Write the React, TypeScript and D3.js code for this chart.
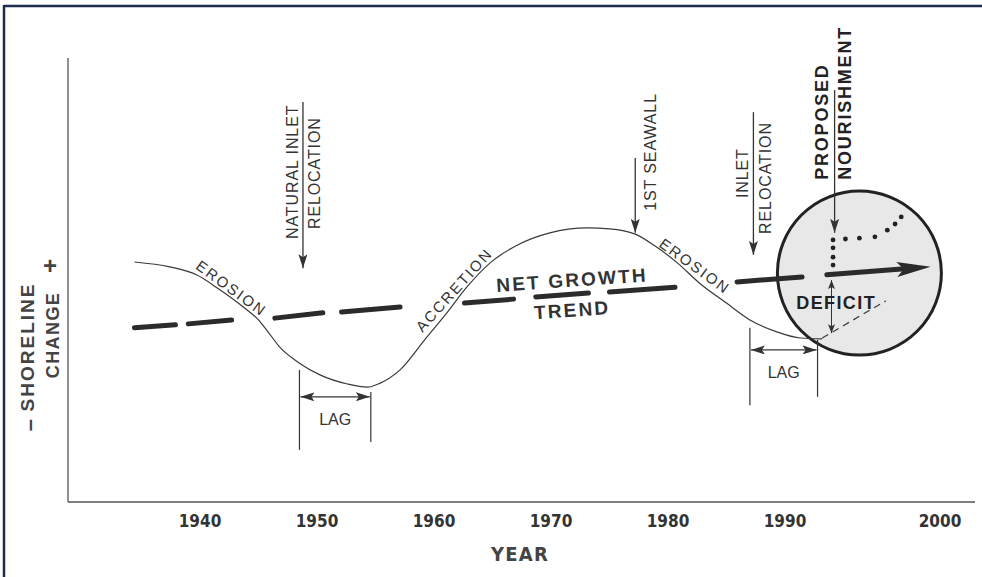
import React from 'react';
import * as d3 from 'd3';

// ---- data (years on x, relative shoreline change on y) ----
const tickYears = [1940, 1950, 1960, 1970, 1980, 1990, 2000];

// measured shoreline position
const shoreYears = [1934.4, 1937.4, 1939.7, 1941.7, 1943.7, 1945.0, 1945.7, 1946.8, 1948.5, 1950.3, 1952.6, 1954.3, 1955.4, 1957.1, 1959.2, 1961.1, 1962.8, 1964.8, 1967.1, 1969.9, 1973.1, 1975.0, 1977.2, 1978.9, 1980.8, 1982.7, 1985.0, 1987.0, 1989.3, 1991.0, 1992.4];
const shoreChange = [4.3, 3.2, 1.4, -2.0, -5.9, -8.8, -11.1, -14.9, -18.6, -21.3, -23.3, -24.0, -23.1, -20.1, -13.3, -7.2, -1.4, 4.1, 8.1, 10.9, 12.0, 11.8, 10.6, 7.9, 4.1, -0.5, -5.0, -8.8, -11.5, -12.9, -13.1];

// net growth trend, drawn as broken segments [year0, change0, year1, change1]
const trendDashes = [
  [1934.4, -10.6, 1937.9, -9.9],
  [1939.0, -9.7, 1942.7, -8.8],
  [1946.4, -8.4, 1950.5, -7.2],
  [1952.1, -7.0, 1957.1, -5.9],
  [1962.6, -5.0, 1966.8, -4.1],
  [1968.7, -3.6, 1973.2, -2.7],
  [1975.0, -2.5, 1980.6, -1.4],
  [1985.9, -0.2, 1991.1, 0.9],
];
const trendArrow = [1992.7, 1.4, 1999.4, 3.2];

// projected shoreline without nourishment
const projYears = [1992.4, 1996.5];
const projChange = [-12.9, -4.5];

// proposed nourishment path (dotted)
const nourishYears = [1993.1, 1993.1, 1993.1, 1993.1, 1993.9, 1994.8, 1995.8, 1996.6, 1997.1, 1997.5];
const nourishChange = [3.6, 5.4, 7.5, 9.3, 9.5, 9.7, 10.0, 11.5, 12.9, 14.5];

// event arrows
const eventYears = [1948.8, 1977.2, 1987.3, 1993.2];
const eventTop = [40.5, 27.8, 38.2, 43.2];
const eventTip = [2.9, 10.9, 5.9, 10.9];

const eventLabels = [
  { text: 'NATURAL INLET', year: 1947.9, value: 24.7, anchor: 'middle', bold: false },
  { text: 'RELOCATION', year: 1949.8, value: 24.4, anchor: 'middle', bold: false },
  { text: '1ST SEAWALL', year: 1978.5, value: 29.2, anchor: 'middle', bold: false },
  { text: 'INLET', year: 1986.4, value: 24.4, anchor: 'middle', bold: false },
  { text: 'RELOCATION', year: 1988.3, value: 23.3, anchor: 'middle', bold: false },
  { text: 'PROPOSED', year: 1992.4, value: 22.9, anchor: 'start', bold: true },
  { text: 'NOURISHMENT', year: 1993.9, value: 22.9, anchor: 'start', bold: true },
];

const curveLabels = [
  { text: 'EROSION', year: 1942.7, value: -1.6, angle: 36 },
  { text: 'ACCRETION', year: 1961.7, value: -2.0, angle: -48 },
  { text: 'EROSION', year: 1982.3, value: 3.4, angle: 36 },
];
const trendLabels = [
  { text: 'NET GROWTH', year: 1971.8, value: 0.2 },
  { text: 'TREND', year: 1971.8, value: -6.6 },
];

// lag brackets
const lagFrom = [1948.5, 1987.0];
const lagTo = [1954.6, 1992.1];
const lagLeftSpan = [[-20.1, -38.2], [-10.6, -28.1]];
const lagRightSpan = [[-25.1, -36.4], [-13.3, -26.2]];
const lagArrowAt = [-26.2, -15.6];
const lagLabelAt = [-31.4, -20.8];

const deficitYear = 1993.0;
const deficitSpan = [0.2, -11.8];
const focusCenter = [1994.8, 1.8];

const INK = '#333';
const sans = "'Liberation Sans', Arial, sans-serif";
const cond = "'DejaVu Sans Condensed', 'DejaVu Sans', sans-serif";

export default function App() {
  const width = 982;
  const height = 577;
  const axisLeft = 68, axisRight = 975, axisTop = 58, axisBottom = 502;

  const x = d3.scaleLinear().domain([1940, 1990, 2000]).range([200, 785, 940]);
  const y = d3.scaleLinear().domain([-50, 50]).range([axisBottom, 60]);

  const shoreLine = d3.line<number>()
    .x(i => x(shoreYears[i]))
    .y(i => y(shoreChange[i]))
    .curve(d3.curveMonotoneX);
  const shorePath = shoreLine(shoreYears.map((_, i) => i)) || '';

  // big trend arrow
  const [ay0, av0, ay1, av1] = trendArrow;
  const p0 = [x(ay0), y(av0)];
  const p1 = [x(ay1), y(av1)];
  const ang = Math.atan2(p1[1] - p0[1], p1[0] - p0[0]);
  const ux = Math.cos(ang), uy = Math.sin(ang);
  const headLen = 34, headW = 7.5;
  const bx = p1[0] - ux * headLen, by = p1[1] - uy * headLen;
  const head = [
    [p1[0], p1[1]],
    [bx - uy * headW, by + ux * headW],
    [p1[0] - ux * (headLen - 7), p1[1] - uy * (headLen - 7)],
    [bx + uy * headW, by - ux * headW],
  ];

  const [cx, cy] = [x(focusCenter[0]), y(focusCenter[1])];

  return (
    <svg width={width} height={height} style={{ position: 'absolute', left: 0, top: 0, background: '#fff' }}>
      <defs>
        <marker id="ah" viewBox="0 0 14 9" refX="14" refY="4.5" markerWidth="14" markerHeight="9"
          orient="auto-start-reverse" markerUnits="userSpaceOnUse">
          <path d="M0,0 L14,4.5 L0,9 L3,4.5 z" fill={INK} />
        </marker>
        <marker id="ahs" viewBox="0 0 9 7" refX="9" refY="3.5" markerWidth="9" markerHeight="7"
          orient="auto-start-reverse" markerUnits="userSpaceOnUse">
          <path d="M0,0 L9,3.5 L0,7 L2,3.5 z" fill={INK} />
        </marker>
      </defs>

      {/* frame */}
      <line x1={4} y1={6} x2={width} y2={6} stroke="#1e2d4d" strokeWidth={2.5} />
      <line x1={4} y1={5} x2={4} y2={height} stroke="#1e2d4d" strokeWidth={2.5} />

      {/* axes */}
      <line x1={axisLeft} y1={axisTop} x2={axisLeft} y2={axisBottom} stroke="#555" strokeWidth={1.3} />
      <line x1={axisLeft} y1={axisBottom} x2={axisRight} y2={axisBottom} stroke="#555" strokeWidth={1.3} />
      {tickYears.map(t => (
        <text key={t} x={x(t)} y={527} textAnchor="middle" fontFamily={cond} fontWeight="bold"
          fontSize={17} fill={INK}>{t}</text>
      ))}
      <text x={520} y={561} textAnchor="middle" fontFamily={cond} fontWeight="bold" fontSize={20}
        letterSpacing={1.2} fill="#444">YEAR</text>

      {/* y label */}
      <text transform="translate(27,347) rotate(-90)" textAnchor="middle" dominantBaseline="central"
        fontFamily={sans} fontWeight="bold" fontSize={19} letterSpacing={2} fill="#444">SHORELINE</text>
      <text transform="translate(53,335) rotate(-90)" textAnchor="middle" dominantBaseline="central"
        fontFamily={sans} fontWeight="bold" fontSize={18} letterSpacing={1.4} fill="#444">CHANGE</text>
      <text x={50} y={265} textAnchor="middle" dominantBaseline="central" fontFamily={sans}
        fontWeight="bold" fontSize={24} fill="#444">+</text>
      <text transform="translate(29,425) rotate(-90)" textAnchor="middle" dominantBaseline="central"
        fontFamily={sans} fontWeight="bold" fontSize={22} fill="#444">–</text>

      {/* focus circle */}
      <circle cx={cx} cy={cy} r={82} fill="#e8e8e8" stroke="#222" strokeWidth={3} />

      {/* shoreline */}
      <path d={shorePath} fill="none" stroke="#3a3a3a" strokeWidth={1.2} />
      <line x1={x(projYears[0])} y1={y(projChange[0])} x2={x(projYears[1])} y2={y(projChange[1])}
        stroke="#3a3a3a" strokeWidth={1.2} strokeDasharray="7 5" />

      {/* trend */}
      {trendDashes.map((d, i) => (
        <line key={i} x1={x(d[0])} y1={y(d[1])} x2={x(d[2])} y2={y(d[3])}
          stroke="#2b2b2b" strokeWidth={5} strokeLinecap="round" />
      ))}
      <line x1={p0[0]} y1={p0[1]} x2={p1[0] - ux * (headLen - 8)} y2={p1[1] - uy * (headLen - 8)}
        stroke="#2b2b2b" strokeWidth={5} strokeLinecap="round" />
      <polygon points={head.map(p => p.join(',')).join(' ')} fill="#2b2b2b" />

      {/* nourishment dots */}
      {nourishYears.map((yr, i) => (
        <circle key={i} cx={x(yr)} cy={y(nourishChange[i])} r={2.4} fill="#222" />
      ))}

      {/* deficit */}
      <line x1={x(deficitYear)} y1={y(deficitSpan[0])} x2={x(deficitYear)} y2={y(deficitSpan[1])}
        stroke={INK} strokeWidth={1} markerStart="url(#ahs)" markerEnd="url(#ahs)" />
      <text x={x(1993.3)} y={y(-5.0)} textAnchor="middle" dominantBaseline="central" fontFamily={sans}
        fontWeight="bold" fontSize={18} letterSpacing={1.4} fill="#222">DEFICIT</text>

      {/* event arrows */}
      {eventYears.map((yr, i) => (
        <line key={i} x1={x(yr)} y1={y(eventTop[i])} x2={x(yr)} y2={y(eventTip[i])}
          stroke={INK} strokeWidth={1.3} markerEnd="url(#ah)" />
      ))}
      {eventLabels.map((l, i) => (
        <text key={i} transform={`translate(${x(l.year)},${y(l.value)}) rotate(-90)`}
          textAnchor={l.anchor} dominantBaseline="central" fontFamily={sans}
          fontWeight={l.bold ? 'bold' : 'normal'} fontSize={l.bold ? 18 : 16}
          letterSpacing={l.bold ? 1.8 : 0.9} fill={l.bold ? '#222' : INK}>{l.text}</text>
      ))}

      {/* curve labels */}
      {curveLabels.map((l, i) => (
        <text key={i} transform={`translate(${x(l.year)},${y(l.value)}) rotate(${l.angle})`}
          textAnchor="middle" dominantBaseline="central" fontFamily={sans} fontSize={15}
          letterSpacing={2} fill={INK}>{l.text}</text>
      ))}
      {trendLabels.map((l, i) => (
        <text key={i} transform={`translate(${x(l.year)},${y(l.value)}) rotate(-4)`}
          textAnchor="middle" dominantBaseline="central" fontFamily={sans} fontWeight="bold"
          fontSize={19} letterSpacing={2.2} fill={INK}>{l.text}</text>
      ))}

      {/* lag brackets */}
      {lagFrom.map((f, i) => {
        const x0 = x(f), x1 = x(lagTo[i]);
        return (
          <g key={i} stroke={INK} strokeWidth={1.2}>
            <line x1={x0} y1={y(lagLeftSpan[i][0])} x2={x0} y2={y(lagLeftSpan[i][1])} />
            <line x1={x1} y1={y(lagRightSpan[i][0])} x2={x1} y2={y(lagRightSpan[i][1])} />
            <line x1={x0 + 1} y1={y(lagArrowAt[i])} x2={x1 - 1} y2={y(lagArrowAt[i])}
              markerStart="url(#ah)" markerEnd="url(#ah)" />
            <text x={(x0 + x1) / 2} y={y(lagLabelAt[i])} textAnchor="middle" dominantBaseline="central"
              fontFamily={sans} fontSize={16} stroke="none" fill={INK}>LAG</text>
          </g>
        );
      })}
    </svg>
  );
}
